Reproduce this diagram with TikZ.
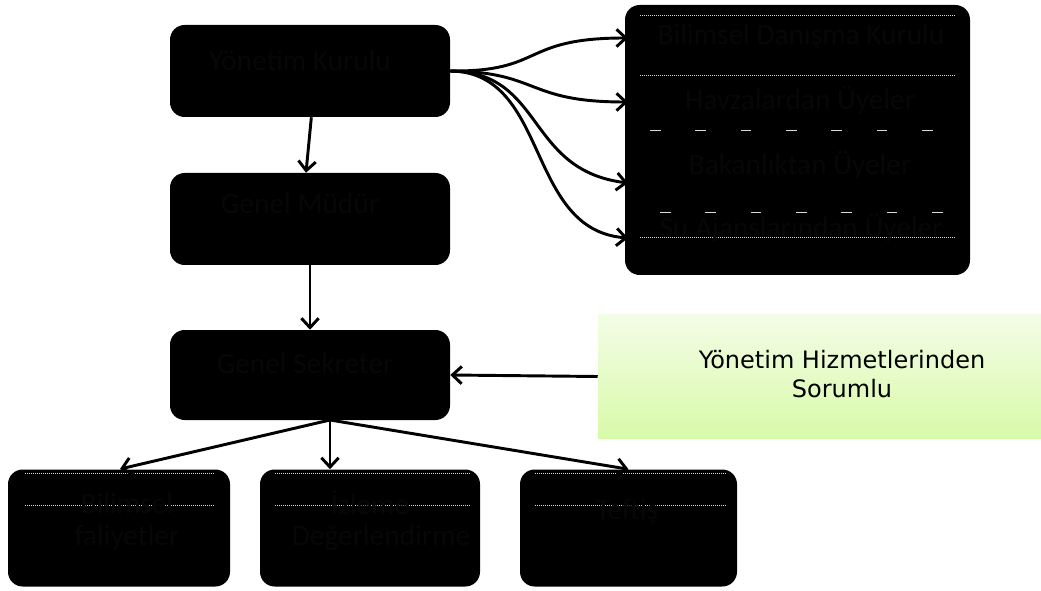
\documentclass[tikz,border=0pt]{standalone}
\usepackage{fontspec}
\setmainfont{Carlito}
\newfontfamily\verd{DejaVu Sans}
\usetikzlibrary{arrows.meta}
\definecolor{gtop}{HTML}{F3FDE6}
\definecolor{gbot}{HTML}{D9FAA9}
\definecolor{dimtext}{HTML}{070707}
\begin{document}
\begin{tikzpicture}[x=0.75pt,y=-0.75pt,
  box/.style={fill=black, rounded corners=11pt, inner sep=0pt},
  btext/.style={text=dimtext, font=\fontsize{22}{26}\selectfont, inner sep=0pt},
  arr/.style={line width=2.2pt, -{Straight Barb[length=7pt,width=13pt]}},
  seam/.style={gray!30, line width=0.5pt, densely dotted},
  gap/.style={gray!30, line width=0.5pt, dash pattern=on 8pt off 26pt},
]
\useasboundingbox (0,0) rectangle (1041,591);

% management chain
\node[box, minimum width=210pt, minimum height=69pt] (yk) at (310,71) {};
\node[btext] (ykt) at (300,60) {Yönetim Kurulu};
\node[box, minimum width=210pt, minimum height=69pt] (gm) at (310,219) {};
\node[btext] (gmt) at (300,203) {Genel Müdür};
\node[box, minimum width=210pt, minimum height=67.5pt] (gs) at (310,375) {};
\node[btext] (gst) at (305,363) {Genel Sekreter};

% advisory members
\node[box, minimum width=258.75pt, minimum height=202.5pt] (rg) at (797.5,140) {};
\draw[seam] (640,15) -- (955,15);
\draw[seam] (640,75) -- (955,75);
\draw[gap] (650,130) -- (955,130);
\draw[gap] (660,212) -- (955,212);
\draw[seam] (640,237) -- (955,237);
\node[btext] (r1t) at (801,37) {Bilimsel Danışma Kurulu};
\node[btext] (r2t) at (800,100) {Havzalardan Üyeler};
\node[btext] (r3t) at (800,165) {Bakanlıktan Üyeler};
\node[btext] (r4t) at (801,228) {Su Ajanslarından Üyeler};
\coordinate (r1) at (628,38);
\coordinate (r2) at (628,102);
\coordinate (r3) at (628,183);
\coordinate (r4) at (628,238);

% units
\node[box, minimum width=166.5pt, minimum height=87.75pt] (bf) at (119,528) {};
\node[box, minimum width=165pt, minimum height=87.75pt] (iz) at (370,528) {};
\node[box, minimum width=162.75pt, minimum height=87.75pt] (tf) at (628.5,528) {};
\draw[seam] (25,473) -- (215,473);
\draw[seam] (25,505) -- (215,505);
\draw[seam] (275,473) -- (470,473);
\draw[seam] (275,505) -- (470,505);
\draw[seam] (535,473) -- (727,473);
\draw[seam] (535,505) -- (727,505);
\node[btext] (bft1) at (127,503) {Bilimsel};
\node[btext] (bft2) at (127,538) {faliyetler};
\node[btext] (izt1) at (370,503) {İzleme};
\node[btext] (izt2) at (381,538) {Değerlendirme};
\node[btext] (tft) at (627,512) {Teftiş};

% administrative services
\node[inner sep=0pt, minimum width=332.25pt, minimum height=92.25pt,
      top color=gtop, bottom color=gbot] (ys) at (819.5,376.5) {};
\node[font=\verd\fontsize{18}{21.5}\selectfont, align=center, inner sep=0pt]
  (yst) at (842,374) {Yönetim Hizmetlerinden\\Sorumlu};

% connectors
\draw[arr] ([xshift=1pt]yk.south) -- ([xshift=-3pt]gm.north);
\draw[arr] (gm.south) -- (gs.north);
\draw[arr] (ys.west) -- (gs.east);
\coordinate (gsb) at (330,420);
\draw[arr] (gsb) -- (120,469);
\draw[arr] (gsb) -- (gsb |- iz.north);
\draw[arr] (gsb) -- (tf.north);
\draw[arr] (yk.east) .. controls (545,72) and (520,38) .. (r1);
\draw[arr] (yk.east) .. controls (540,72) and (525,102) .. (r2);
\draw[arr] (yk.east) .. controls (545,72) and (525,170) .. (r3);
\draw[arr] (yk.east) .. controls (550,72) and (525,230) .. (r4);
\end{tikzpicture}
\end{document}
